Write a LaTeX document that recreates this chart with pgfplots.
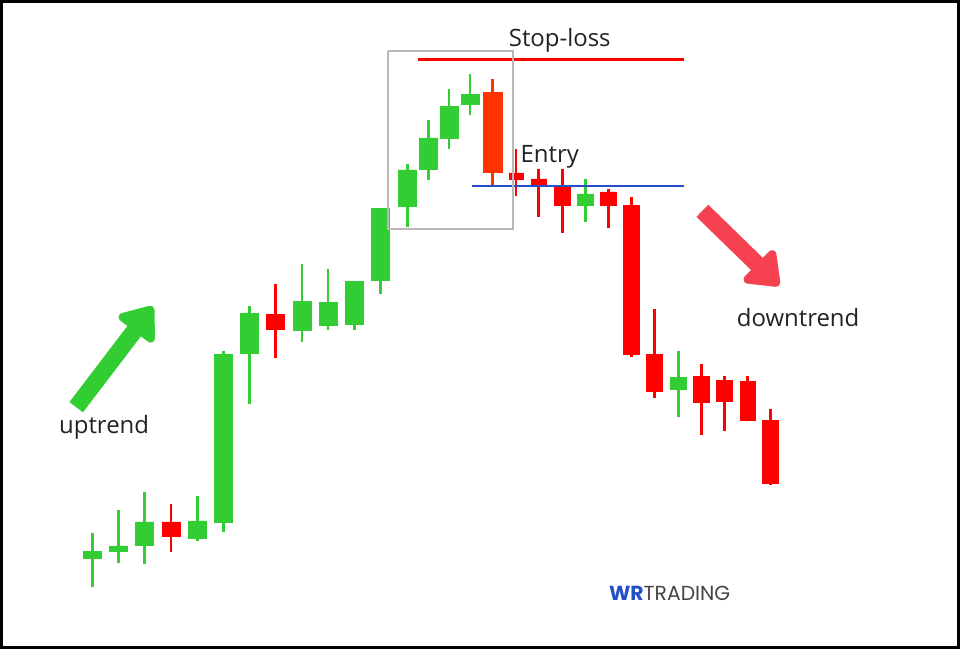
\documentclass[border=0pt]{standalone}
\usepackage{pgfplots}
\pgfplotsset{compat=1.18}
\usepgfplotslibrary{statistics}
\usetikzlibrary{arrows.meta}
\usepackage{fontspec}
\setmainfont{Open Sans}
\newfontfamily\logofont{Poppins}

\definecolor{bull}{RGB}{50,205,50}
\definecolor{bear}{RGB}{255,0,0}
\definecolor{bigbear}{RGB}{255,51,0}
\definecolor{entryblue}{RGB}{35,80,200}
\definecolor{downred}{RGB}{245,65,80}
\definecolor{ink}{RGB}{34,34,34}

% one candle: x, wick top, body top, body bottom, wick bottom, colour, body width
% (picture units, y grows downwards)
\newcommand\candle[7]{%
  \addplot[draw=#6, fill=#6, line width=0.3pt,
    boxplot prepared={draw direction=y, draw position=#1,
      lower whisker=#2, lower quartile=#3, median=#3,
      upper quartile=#4, upper whisker=#5,
      box extend=#7, whisker extend=0,
      every whisker/.style={line width=1.4pt}}]
    coordinates {};}

\begin{document}
\begin{tikzpicture}
\begin{axis}[
    width=480pt, height=324pt, scale only axis,
    xmin=0, xmax=960, ymin=0, ymax=648, y dir=reverse,
    xtick=\empty, ytick=\empty,
    axis line style={line width=1.4pt, black},
    clip=false,
]
% uptrend
\candle{91}{533}{552}{559}{587}{bull}{18}
\candle{117.5}{510}{546}{552}{563}{bull}{18}
\candle{143.5}{492}{522}{545}{564}{bull}{18}
\candle{170}{504}{522}{536}{552}{bear}{18}
\candle{196.5}{496}{521}{538}{541}{bull}{18}
\candle{222.5}{351}{354}{522}{532}{bull}{18}
\candle{249}{305}{313}{353}{404}{bull}{18}
\candle{275}{283}{314}{329}{358}{bear}{18}
\candle{301.5}{263}{301}{330}{342}{bull}{18}
\candle{327.5}{268}{302}{325}{330}{bull}{18}
\candle{354}{281}{281}{324}{330}{bull}{18}
\candle{380}{208}{208}{280}{293}{bull}{18}
\candle{407}{163}{169}{206}{226}{bull}{18}
\candle{428}{119}{137}{168}{179}{bull}{18}
\candle{449}{88}{105}{137}{148}{bull}{18}
\candle{470}{73}{93}{103}{114}{bull}{18}
\candle{492.5}{78}{91}{171}{184}{bigbear}{19}
% after the top
\candle{516}{148}{172}{178}{195}{bear}{14}
\candle{539}{168}{178}{184}{216}{bear}{15}
\candle{562.5}{168}{186}{205}{232}{bear}{16}
\candle{585.5}{178}{193}{205}{221}{bull}{16}
\candle{609}{188}{191}{205}{227}{bear}{16}
\candle{632}{196}{205}{354}{357}{bear}{16}
\candle{655}{309}{354}{391}{398}{bear}{16}
\candle{679}{351}{377}{389}{417}{bull}{16}
\candle{702}{364}{376}{402}{435}{bear}{16}
\candle{725}{376}{380}{401}{431}{bear}{16}
\candle{748.5}{376}{381}{420}{420}{bear}{15}
\candle{771.5}{409}{420}{483}{485}{bear}{16}

% levels and pattern box
\addplot[bear, line width=1.3pt] coordinates {(418,58) (685,58)};
\addplot[entryblue, line width=1.3pt] coordinates {(472,185) (685,185)};
\addplot[black!28, line width=0.9pt] coordinates {(388,50) (513,50) (513,228) (388,228) (388,50)};

% trend arrows
\addplot[bull, line width=8.5pt, -{Triangle[width=25pt,length=17pt,round]}]
    coordinates {(75,407) (152,306)};
\addplot[downred, line width=8.5pt, -{Triangle[width=25pt,length=17pt,round]}]
    coordinates {(703,210) (780,285)};

\begin{scope}[font=\fontsize{12}{14}\selectfont, text=ink]
\node[anchor=base] at (560,45) {Stop-loss};
\node[anchor=base] at (550,162) {Entry};
\node[anchor=base] at (103,433) {uptrend};
\node[anchor=base] at (799,326) {downtrend};
\end{scope}
\node[anchor=base west, inner sep=0pt, font=\fontsize{10.2}{12}\selectfont]
    at (609,601) {{\logofont\bfseries\color{entryblue}WR}{\logofont\color{ink!85}TRADING}};
\end{axis}
\end{tikzpicture}
\end{document}
